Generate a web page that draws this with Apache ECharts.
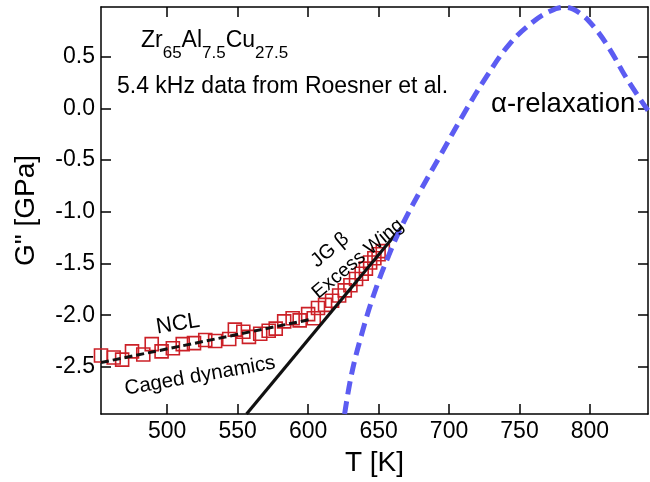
<!DOCTYPE html>
<html>
<head>
<meta charset="utf-8">
<script src="https://cdn.jsdelivr.net/npm/echarts@6/dist/echarts.min.js"></script>
<style>
html, body { margin: 0; padding: 0; background: #ffffff; }
#chart { width: 650px; height: 482px; }
</style>
</head>
<body>
<div id="chart"></div>
<script>
// Axis ticks
const tempTicks = [500, 550, 600, 650, 700, 750, 800];
const lossTicks = [-2.5, -2.0, -1.5, -1.0, -0.5, 0.0, 0.5];

// Measured loss modulus G'' (5.4 kHz)
const dataT = [453, 462, 468, 475, 483, 489, 496, 504, 511, 519, 527, 534, 544, 548, 554, 558,
  566, 572, 577, 583, 589, 594, 600, 604, 607, 612, 617, 622, 626, 630, 634, 638, 641, 644, 647, 650, 653];
const dataG = [-2.39, -2.41, -2.43, -2.35, -2.38, -2.28, -2.35, -2.32, -2.28, -2.27, -2.24, -2.25, -2.23, -2.14, -2.16, -2.21,
  -2.18, -2.15, -2.13, -2.06, -2.03, -2.05, -1.99, -2.03, -1.93, -1.90, -1.86, -1.81, -1.76, -1.71, -1.65, -1.60, -1.55, -1.49, -1.45, -1.41, -1.38];

// Nearly constant loss (caged dynamics) trend
const nclT = [453, 603.2];
const nclG = [-2.458, -2.037];

// JG beta / excess wing line
const jgT = [556.3, 666.2];
const jgG = [-2.956, -1.15];

// Alpha relaxation peak
const alphaT = [625.9, 630.9, 638.0, 646.5, 656.5, 667.1, 679.9, 694.1, 709.8, 726.8, 743.2, 759.5,
  771.6, 782.2, 792.9, 802.9, 814.2, 826.3, 841.2];
const alphaG = [-2.956, -2.566, -2.185, -1.805, -1.444, -1.120, -0.791, -0.448, -0.068, 0.312, 0.627, 0.836,
  0.940, 0.978, 0.921, 0.788, 0.569, 0.284, -0.020];

const zip = (a, b) => a.map((v, i) => [v, b[i]]);

const FONT = '"Liberation Sans", Arial, Helvetica, sans-serif';
const X_MIN = 453, X_MAX = 841.2, Y_MIN = -2.956, Y_MAX = 0.981;

const chart = echarts.init(document.getElementById('chart'), null, { renderer: 'canvas' });

const axisLine = { show: true, onZero: false, lineStyle: { color: '#000', width: 1.5 } };
const tickIn = (vals) => ({ show: true, inside: true, length: 10, customValues: vals, lineStyle: { color: '#000', width: 1.5 } });

chart.setOption({
  animation: false,
  backgroundColor: '#ffffff',
  grid: { left: 101, right: 2, top: 7, bottom: 61 },
  xAxis: [
    {
      type: 'value', min: X_MIN, max: X_MAX, position: 'bottom',
      axisLine, axisTick: tickIn(tempTicks), splitLine: { show: false },
      axisLabel: { customValues: tempTicks, margin: 6, color: '#000', fontSize: 23, fontFamily: FONT },
      name: 'T [K]', nameLocation: 'middle', nameGap: 35,
      nameTextStyle: { color: '#000', fontSize: 28, fontFamily: FONT }
    },
    {
      type: 'value', min: X_MIN, max: X_MAX, position: 'top',
      axisLine, axisTick: tickIn(tempTicks), splitLine: { show: false },
      axisLabel: { show: false }
    }
  ],
  yAxis: [
    {
      type: 'value', min: Y_MIN, max: Y_MAX, position: 'left',
      axisLine, axisTick: tickIn(lossTicks), splitLine: { show: false },
      axisLabel: {
        customValues: lossTicks, margin: 6, color: '#000', fontSize: 23, fontFamily: FONT,
        formatter: (v) => v.toFixed(1)
      },
      name: 'G" [GPa]', nameLocation: 'middle', nameGap: 61, nameRotate: 90,
      nameTextStyle: { color: '#000', fontSize: 28, fontFamily: FONT }
    },
    {
      type: 'value', min: Y_MIN, max: Y_MAX, position: 'right',
      axisLine, axisTick: tickIn(lossTicks), splitLine: { show: false },
      axisLabel: { show: false }
    }
  ],
  series: [
    {
      type: 'scatter', name: 'data', clip: false,
      symbol: 'rect', symbolSize: 13,
      itemStyle: { color: 'rgba(0,0,0,0)', borderColor: '#cc2027', borderWidth: 1.6, opacity: 1 },
      data: zip(dataT, dataG), z: 2
    },
    {
      type: 'line', name: 'NCL', showSymbol: false, symbol: 'none',
      lineStyle: { color: '#111', width: 3, type: [8, 4] },
      data: zip(nclT, nclG), z: 3
    },
    {
      type: 'line', name: 'JG', showSymbol: false, symbol: 'none',
      lineStyle: { color: '#111', width: 3.2 },
      data: zip(jgT, jgG), z: 3
    },
    {
      type: 'line', name: 'alpha', showSymbol: false, symbol: 'none', smooth: 0.4,
      lineStyle: { color: '#5c5cf2', width: 5, type: [13, 7] },
      data: zip(alphaT, alphaG), z: 4
    }
  ],
  graphic: [
    {
      type: 'text', left: 141, top: 29, z: 10,
      style: {
        text: '{m|Zr}{s|65}{m|Al}{s|7.5}{m|Cu}{s|27.5}',
        fill: '#000',
        rich: {
          m: { fontSize: 23, fontFamily: FONT, lineHeight: 24, verticalAlign: 'top', fill: '#000' },
          s: { fontSize: 17, fontFamily: FONT, lineHeight: 33, verticalAlign: 'bottom', fill: '#000' }
        }
      }
    },
    {
      type: 'text', x: 117, y: 86.5, z: 10,
      style: { text: '5.4 kHz data from Roesner et al.', fontSize: 23, fontFamily: FONT, fill: '#000', verticalAlign: 'middle' }
    },
    {
      type: 'text', x: 491, y: 104, z: 10,
      style: { text: 'α-relaxation', fontSize: 27.5, fontFamily: FONT, fill: '#000', verticalAlign: 'middle' }
    },
    {
      type: 'text', x: 178, y: 324, rotation: 9 * Math.PI / 180, z: 10,
      style: { text: 'NCL', fontSize: 22, fontFamily: FONT, fill: '#000', align: 'center', verticalAlign: 'middle' }
    },
    {
      type: 'text', x: 200, y: 376, rotation: 10 * Math.PI / 180, z: 10,
      style: { text: 'Caged dynamics', fontSize: 20.5, fontFamily: FONT, fill: '#000', align: 'center', verticalAlign: 'middle' }
    },
    {
      type: 'text', x: 330, y: 250, rotation: 40 * Math.PI / 180, z: 10,
      style: { text: 'JG β', fontSize: 20, fontFamily: FONT, fill: '#000', align: 'center', verticalAlign: 'middle' }
    },
    {
      type: 'text', x: 358, y: 259, rotation: 40 * Math.PI / 180, z: 10,
      style: { text: 'Excess Wing', fontSize: 19.5, fontFamily: FONT, fill: '#000', align: 'center', verticalAlign: 'middle' }
    }
  ]
});
</script>
</body>
</html>
